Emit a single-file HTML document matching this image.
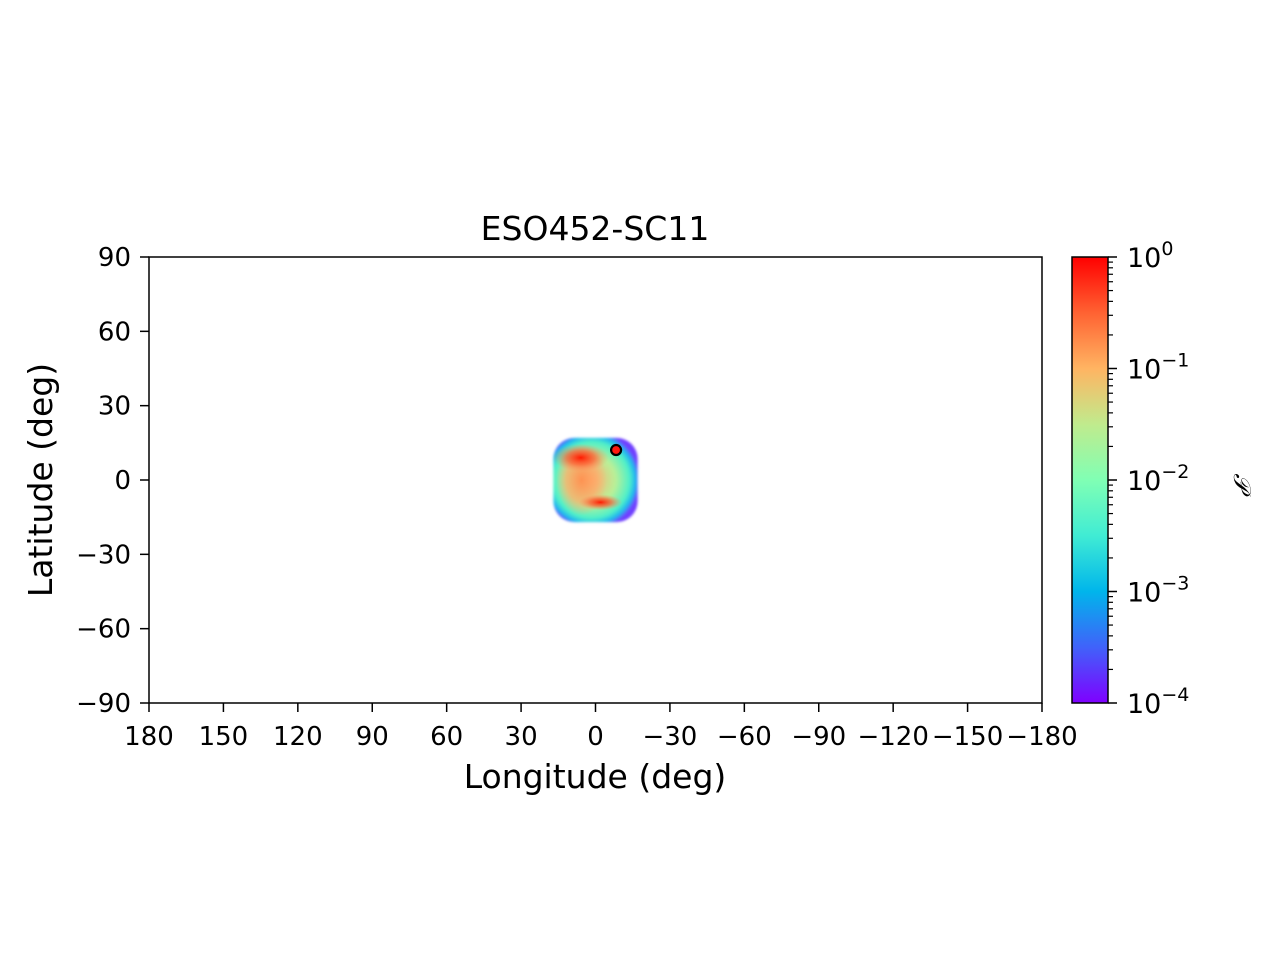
<!DOCTYPE html>
<html><head><meta charset="utf-8"><style>
body{margin:0;background:#fff;}
svg{display:block;font-family:"DejaVu Sans","Liberation Sans",sans-serif;}
</style></head><body>
<svg id="chart" width="1280" height="960" viewBox="0 0 1280 960">
<defs>
<linearGradient id="cbar" x1="0" y1="1" x2="0" y2="0">
<stop offset="0" stop-color="#7f00ff"/><stop offset="0.125" stop-color="#4062fa"/>
<stop offset="0.25" stop-color="#00b5eb"/><stop offset="0.375" stop-color="#40ecd4"/>
<stop offset="0.5" stop-color="#80ffb4"/><stop offset="0.625" stop-color="#c0eb8d"/>
<stop offset="0.75" stop-color="#ffb462"/><stop offset="0.875" stop-color="#ff6232"/>
<stop offset="1" stop-color="#ff0000"/></linearGradient>
<radialGradient id="blobbase" cx="0.45" cy="0.5" r="0.58">
<stop offset="0" stop-color="#ffb070"/><stop offset="0.5" stop-color="#b8f098"/>
<stop offset="0.78" stop-color="#50f0c8"/><stop offset="0.9" stop-color="#20b8ee"/><stop offset="1" stop-color="#7040ff"/></radialGradient>
<radialGradient id="hot" cx="0.5" cy="0.5" r="0.5">
<stop offset="0" stop-color="#ff1a00" stop-opacity="1"/><stop offset="0.5" stop-color="#ff5a30" stop-opacity="0.7"/><stop offset="1" stop-color="#ff9060" stop-opacity="0"/></radialGradient>
<radialGradient id="warm" cx="0.5" cy="0.5" r="0.5">
<stop offset="0" stop-color="#ff9050" stop-opacity="0.95"/><stop offset="0.6" stop-color="#ffa868" stop-opacity="0.7"/><stop offset="1" stop-color="#ffb070" stop-opacity="0"/></radialGradient>
<filter id="blur"><feGaussianBlur stdDeviation="1.2"/></filter>
</defs>
<text x="595" y="240" font-size="33" text-anchor="middle">ESO452-SC11</text>
<g id="plot"></g>
<rect x="149" y="257" width="893" height="446" fill="none" stroke="#000" stroke-width="1.5"/>
<text x="595" y="788" font-size="33" text-anchor="middle">Longitude (deg)</text>
<text transform="translate(52,480) rotate(-90)" font-size="33" text-anchor="middle">Latitude (deg)</text>
<rect x="1072" y="257" width="36" height="446" fill="url(#cbar)" stroke="#000" stroke-width="1.5"/>
<text transform="translate(1234,482) rotate(90)" font-size="24" font-style="italic" font-family="Liberation Serif,serif" text-anchor="middle">𝒫</text>
</svg>
<script>
const xTicks=[180,150,120,90,60,30,0,-30,-60,-90,-120,-150,-180];
const yTicks=[90,60,30,0,-30,-60,-90];
const cbarExps=[0,-1,-2,-3,-4];
const blobCenter=[0,0];
const blobHalf=[17,17];
const hotSpots=[[10,9],[-2,-9]];
const marker=[-8.3,12.1];
const NS="http://www.w3.org/2000/svg";
const svg=document.getElementById('chart');
const plot=document.getElementById('plot');
const X=l=>149+(180-l)/360*893;
const Y=b=>257+(90-b)/180*446;
const C=e=>257+(0-e)/4*446;
function mk(t,a,p){const e=document.createElementNS(NS,t);for(const k in a)e.setAttribute(k,a[k]);(p||svg).appendChild(e);return e;}
function txt(x,y,s,anchor,p){const t=mk('text',{x:x,y:y,'font-size':26,'text-anchor':anchor},p);t.textContent=s;return t;}
const bx=X(blobCenter[0]+blobHalf[0]),by=Y(blobCenter[1]+blobHalf[1]);
const bw=X(blobCenter[0]-blobHalf[0])-bx,bh=Y(blobCenter[1]-blobHalf[1])-by;
const blob=mk('rect',{x:bx,y:by,width:bw,height:bh,rx:bw*0.25,fill:'url(#blobbase)',filter:'url(#blur)'},plot);


const warm=mk('ellipse',{cx:X(blobCenter[0])-14,cy:Y(blobCenter[1]),rx:bw*0.3,ry:bh*0.42,fill:'url(#warm)'},plot);


hotSpots.forEach((h,i)=>{
 const e=mk('ellipse',{cx:X(h[0])+(i==0?10:0),cy:Y(h[1]),rx:i==0?28:22,ry:i==0?14:8,fill:'url(#hot)'},plot);
 
 
});
const m=mk('circle',{cx:X(marker[0]),cy:Y(marker[1]),r:5,fill:'#ff1a10',stroke:'#000','stroke-width':2.2},plot);


xTicks.forEach(v=>{
 const l=mk('line',{x1:X(v),x2:X(v),y1:703,y2:712,stroke:'#000','stroke-width':1.5});
 
 
 const t=txt(X(v),745,String(v).replace('-','−'),'middle');
 
 
});
yTicks.forEach(v=>{
 const l=mk('line',{x1:140,x2:149,y1:Y(v),y2:Y(v),stroke:'#000','stroke-width':1.5});
 
 
 const t=txt(131,Y(v)+9,String(v).replace('-','−'),'end');
 
 
});
cbarExps.forEach(e=>{
 const y=C(e);
 const l=mk('line',{x1:1108,x2:1117,y1:y,y2:y,stroke:'#000','stroke-width':1.5});
 
 
 const t=mk('text',{x:1127,y:y+10,'font-size':27});
 t.innerHTML='10<tspan dy="-12" font-size="19">'+(e==0?'0':'−'+(-e))+'</tspan>';
 
 
 if(e>-4){for(let k=2;k<=9;k++){const yy=C(e-1+Math.log10(k));
  const ml=mk('line',{x1:1108,x2:1113,y1:yy,y2:yy,stroke:'#000','stroke-width':1.2});
  
  }}
});
</script>
</body></html>
